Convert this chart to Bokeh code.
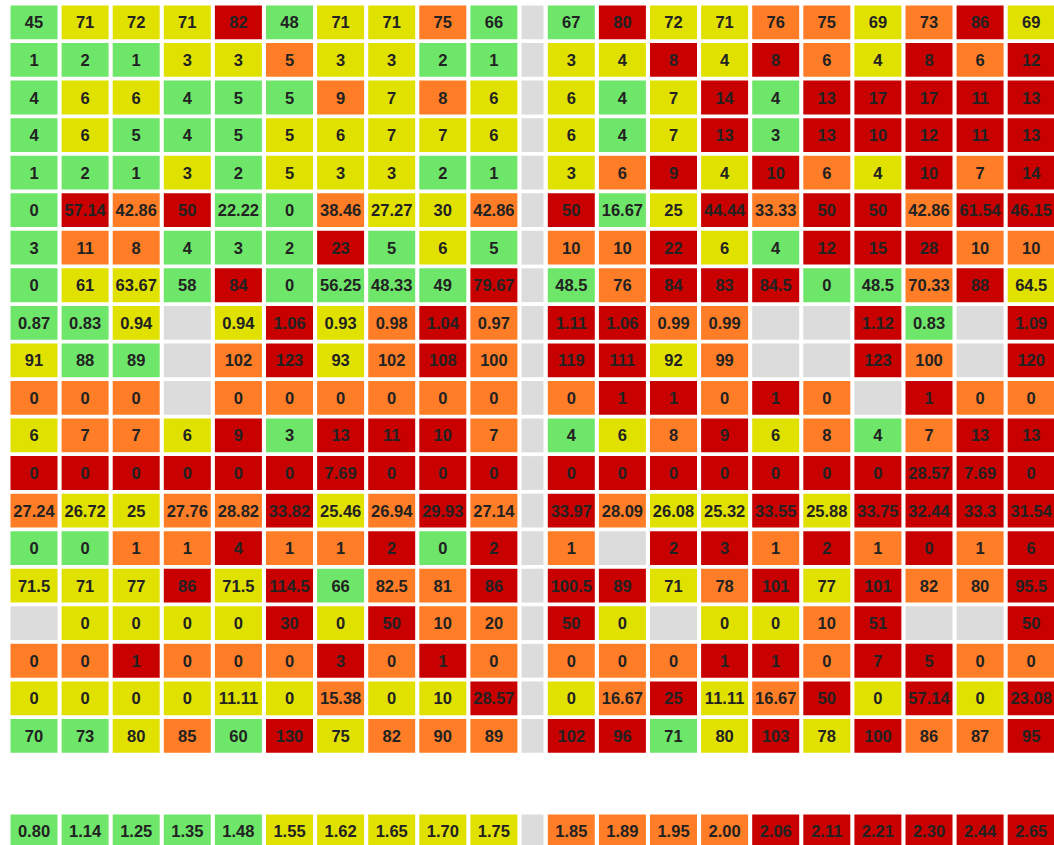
from bokeh.plotting import figure
from bokeh.models import ColumnDataSource, Range1d
from bokeh.embed import file_html
from bokeh.resources import INLINE
from bokeh.core.properties import value

# ---------------- data ----------------
# 20 rows, left block (10 columns) and right block (10 columns); "" = no value
left_values = [
    ["45", "71", "72", "71", "82", "48", "71", "71", "75", "66"],
    ["1", "2", "1", "3", "3", "5", "3", "3", "2", "1"],
    ["4", "6", "6", "4", "5", "5", "9", "7", "8", "6"],
    ["4", "6", "5", "4", "5", "5", "6", "7", "7", "6"],
    ["1", "2", "1", "3", "2", "5", "3", "3", "2", "1"],
    ["0", "57.14", "42.86", "50", "22.22", "0", "38.46", "27.27", "30", "42.86"],
    ["3", "11", "8", "4", "3", "2", "23", "5", "6", "5"],
    ["0", "61", "63.67", "58", "84", "0", "56.25", "48.33", "49", "79.67"],
    ["0.87", "0.83", "0.94", "", "0.94", "1.06", "0.93", "0.98", "1.04", "0.97"],
    ["91", "88", "89", "", "102", "123", "93", "102", "108", "100"],
    ["0", "0", "0", "", "0", "0", "0", "0", "0", "0"],
    ["6", "7", "7", "6", "9", "3", "13", "11", "10", "7"],
    ["0", "0", "0", "0", "0", "0", "7.69", "0", "0", "0"],
    ["27.24", "26.72", "25", "27.76", "28.82", "33.82", "25.46", "26.94", "29.93", "27.14"],
    ["0", "0", "1", "1", "4", "1", "1", "2", "0", "2"],
    ["71.5", "71", "77", "86", "71.5", "114.5", "66", "82.5", "81", "86"],
    ["", "0", "0", "0", "0", "30", "0", "50", "10", "20"],
    ["0", "0", "1", "0", "0", "0", "3", "0", "1", "0"],
    ["0", "0", "0", "0", "11.11", "0", "15.38", "0", "10", "28.57"],
    ["70", "73", "80", "85", "60", "130", "75", "82", "90", "89"],
]
right_values = [
    ["67", "80", "72", "71", "76", "75", "69", "73", "86", "69"],
    ["3", "4", "8", "4", "8", "6", "4", "8", "6", "12"],
    ["6", "4", "7", "14", "4", "13", "17", "17", "11", "13"],
    ["6", "4", "7", "13", "3", "13", "10", "12", "11", "13"],
    ["3", "6", "9", "4", "10", "6", "4", "10", "7", "14"],
    ["50", "16.67", "25", "44.44", "33.33", "50", "50", "42.86", "61.54", "46.15"],
    ["10", "10", "22", "6", "4", "12", "15", "28", "10", "10"],
    ["48.5", "76", "84", "83", "84.5", "0", "48.5", "70.33", "88", "64.5"],
    ["1.11", "1.06", "0.99", "0.99", "", "", "1.12", "0.83", "", "1.09"],
    ["119", "111", "92", "99", "", "", "123", "100", "", "120"],
    ["0", "1", "1", "0", "1", "0", "", "1", "0", "0"],
    ["4", "6", "8", "9", "6", "8", "4", "7", "13", "13"],
    ["0", "0", "0", "0", "0", "0", "0", "28.57", "7.69", "0"],
    ["33.97", "28.09", "26.08", "25.32", "33.55", "25.88", "33.75", "32.44", "33.3", "31.54"],
    ["1", "", "2", "3", "1", "2", "1", "0", "1", "6"],
    ["100.5", "89", "71", "78", "101", "77", "101", "82", "80", "95.5"],
    ["50", "0", "", "0", "0", "10", "51", "", "", "50"],
    ["0", "0", "0", "1", "1", "0", "7", "5", "0", "0"],
    ["0", "16.67", "25", "11.11", "16.67", "50", "0", "57.14", "0", "23.08"],
    ["102", "96", "71", "80", "103", "78", "100", "86", "87", "95"],
]
# rating level per cell: g=good, y=fair, o=poor, r=bad, n=no data
left_levels = [
    "gyyyrgyyog", "gggyyoyygg", "gyygggoyoy", "gygggyyyyy", "gggygyyygg",
    "grorggoyyo", "googggrgyg", "gyygrggggr", "ggynyryoro", "yggnoryoro",
    "ooonoooooo", "yooyrgrrro", "rrrrrrrrrr", "oyyooryoro", "ggooroorgr",
    "yyyryrgoor", "nyyyyryroo", "oorooororo", "yyyyyyoyyr", "ggyogryooo",
]
right_levels = [
    "gryyooyory", "yyryroyror", "ygyrgrrrrr", "ygyrgrrrrr", "yoryroyror",
    "rgyrorrorr", "oorygrrroo", "gorrrggory", "rroonnrgnr", "rryonnronr",
    "orroronroo", "gyoryogorr", "rrrrrrrrrr", "royyryrrrr", "onrrororor",
    "rryoryroor", "rynyyornnr", "ooorrorroo", "yoryoryryr", "rrgyryroor",
]
# colour-scale row along the bottom
scale_values = ["0.80", "1.14", "1.25", "1.35", "1.48", "1.55", "1.62", "1.65", "1.70", "1.75",
                "1.85", "1.89", "1.95", "2.00", "2.06", "2.11", "2.21", "2.30", "2.44", "2.65"]
scale_levels = "gggggyyyyy" + "oooorrrrrr"

palette = {"g": "#6ee66a", "y": "#e1e100", "o": "#ff7d26", "r": "#c80000", "n": "#dcdcdc"}

# ---------------- layout ----------------
X0, PITCH, CELL_W = 10.0, 51.1, 47.0
GAP_W, GAP_SLOT = 22.0, 26.3
Y0, ROW_PITCH, CELL_H = 5.0, 37.55, 33.8
SCALE_TOP = 814.0


def col_center(block, i):
    if block == 0:
        return X0 + PITCH * i + CELL_W / 2
    return X0 + PITCH * 10 + GAP_SLOT + PITCH * i + CELL_W / 2


gap_center = X0 + PITCH * 10 + GAP_W / 2

xs, ys, ws, cols, txts = [], [], [], [], []
n_rows = len(left_values)
for r in range(n_rows):
    yc = Y0 + ROW_PITCH * r + CELL_H / 2
    for block, (vals, levs) in enumerate([(left_values, left_levels), (right_values, right_levels)]):
        for i in range(10):
            xs.append(col_center(block, i))
            ys.append(yc)
            ws.append(CELL_W)
            cols.append(palette[levs[r][i]])
            txts.append(vals[r][i])
    xs.append(gap_center); ys.append(yc); ws.append(GAP_W); cols.append(palette["n"]); txts.append("")

yc = SCALE_TOP + CELL_H / 2
for k in range(20):
    block, i = divmod(k, 10)
    xs.append(col_center(block, i)); ys.append(yc); ws.append(CELL_W)
    cols.append(palette[scale_levels[k]]); txts.append(scale_values[k])
xs.append(gap_center); ys.append(yc); ws.append(GAP_W); cols.append(palette["n"]); txts.append("")

src = ColumnDataSource(dict(x=xs, y=ys, w=ws, c=cols, t=txts))

W, H = 1054, 845
p = figure(width=W, height=H, output_backend="svg", toolbar_location=None,
           x_range=Range1d(0, W), y_range=Range1d(H, 0),
           min_border=0, outline_line_color=None)
p.axis.visible = False
p.grid.visible = False
p.background_fill_color = "white"
p.border_fill_color = "white"

p.rect(x="x", y="y", width="w", height=CELL_H, fill_color="c", line_color=None, source=src)
p.text(x="x", y="y", text="t", source=src, text_align="center", text_baseline="middle",
       text_font=value("Liberation Sans"), text_font_style="bold", text_font_size="16.5px",
       text_color="#222222")

open("out.html", "w").write(file_html(p, INLINE))
